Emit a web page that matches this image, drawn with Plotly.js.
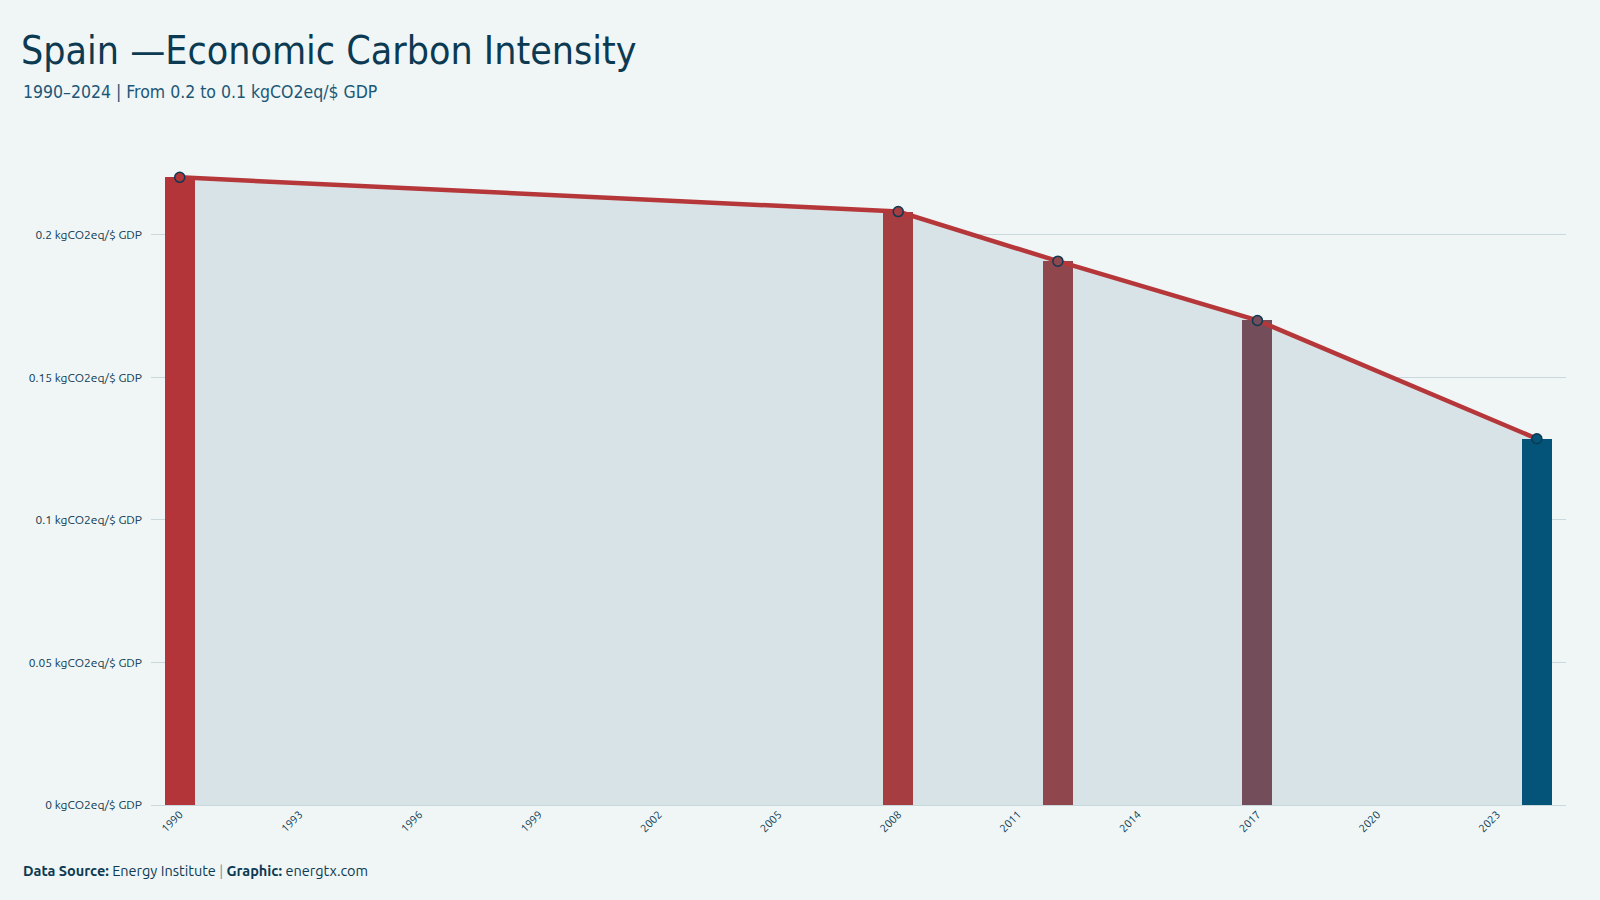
<!DOCTYPE html>
<html>
<head>
<meta charset="utf-8">
<script src="https://cdn.plot.ly/plotly-3.0.1.min.js"></script>
<style>
html,body{margin:0;padding:0;background:#f0f5f5;}
#chart{width:1600px;height:900px;}
</style>
</head>
<body>
<div id="chart"></div>
<script>
// Data
const years = [1990, 2008, 2012, 2017, 2024];
const intensity = [0.2202, 0.2082, 0.1908, 0.1700, 0.1285];
const barColors = ['#b33539', '#a53d41', '#8f464c', '#744d5a', '#035478'];
const yTickVals = [0, 0.05, 0.1, 0.15, 0.2];
const yTickLabels = ['0 kgCO2eq/$ GDP', '0.05 kgCO2eq/$ GDP', '0.1 kgCO2eq/$ GDP', '0.15 kgCO2eq/$ GDP', '0.2 kgCO2eq/$ GDP'];
const titleText = 'Spain —Economic Carbon Intensity';
const subtitleText = '1990–2024 | From 0.2 to 0.1 kgCO2eq/$ GDP';
const footerText = '<b>Data Source:</b> Energy Institute <span style="color:#7d96a3">|</span> <b>Graphic:</b> energtx.com';

const FONT = 'DejaVu Sans Condensed, DejaVu Sans, sans-serif';
const BODY = 'Ubuntu, DejaVu Sans, sans-serif';
const dark = '#0b3a52';
const xr = [1989.28, 2024.73];
const yr = [0, 0.2298];

const traces = [
  {
    x: years, y: intensity, type: 'scatter', mode: 'lines',
    fill: 'tozeroy', fillcolor: '#d7e3e7', line: {width: 0, color: 'rgba(0,0,0,0)'},
    xaxis: 'x', yaxis: 'y', hoverinfo: 'skip', showlegend: false
  },
  {
    x: years, y: intensity, type: 'bar', width: 0.75,
    marker: {color: barColors, line: {width: 0}},
    xaxis: 'x2', yaxis: 'y2', showlegend: false
  },
  {
    x: years, y: intensity, type: 'scatter', mode: 'lines+markers',
    line: {color: '#b5373a', width: 4.5},
    marker: {size: 10, color: barColors, line: {color: dark, width: 1.5}},
    xaxis: 'x2', yaxis: 'y2', showlegend: false
  }
];

const layout = {
  width: 1600, height: 900,
  paper_bgcolor: '#f0f5f5', plot_bgcolor: 'rgba(0,0,0,0)',
  margin: {l: 151, r: 34, t: 150, b: 95},
  font: {family: BODY, color: dark},
  title: {
    text: titleText, x: 21/1600, xanchor: 'left', xref: 'container',
    y: 1 - 50/900, yanchor: 'middle', yref: 'container',
    font: {family: FONT, size: 39, color: dark}
  },
  xaxis: {
    range: xr, tick0: 1990, dtick: 3, tickangle: -45, showgrid: false,
    zeroline: false, showline: false, ticks: '',
    tickfont: {size: 11, color: dark, family: BODY}
  },
  yaxis: {
    range: yr, tickmode: 'array', tickvals: yTickVals, ticktext: yTickLabels,
    showgrid: true, gridcolor: '#c9d8dc', gridwidth: 1, zeroline: true,
    zerolinecolor: '#c9d8dc', zerolinewidth: 1, showline: false, ticks: '',
    ticklabelstandoff: 8,
    tickfont: {size: 12, color: dark, family: BODY}
  },
  xaxis2: {range: xr, overlaying: 'x', visible: false},
  yaxis2: {range: yr, overlaying: 'y', visible: false},
  bargap: 0,
  annotations: [
    {
      text: subtitleText, xref: 'paper', yref: 'paper',
      x: (21 - 151)/1415, y: (805 - 92)/655, xanchor: 'left', yanchor: 'middle',
      showarrow: false, font: {family: FONT, size: 17.5, color: '#1b5878'}
    },
    {
      text: footerText, xref: 'paper', yref: 'paper',
      x: (21 - 151)/1415, y: (805 - 870)/655, xanchor: 'left', yanchor: 'middle',
      showarrow: false, font: {family: BODY, size: 14.5, color: dark}
    }
  ]
};

Plotly.newPlot('chart', traces, layout, {displayModeBar: false, staticPlot: true});
</script>
</body>
</html>
